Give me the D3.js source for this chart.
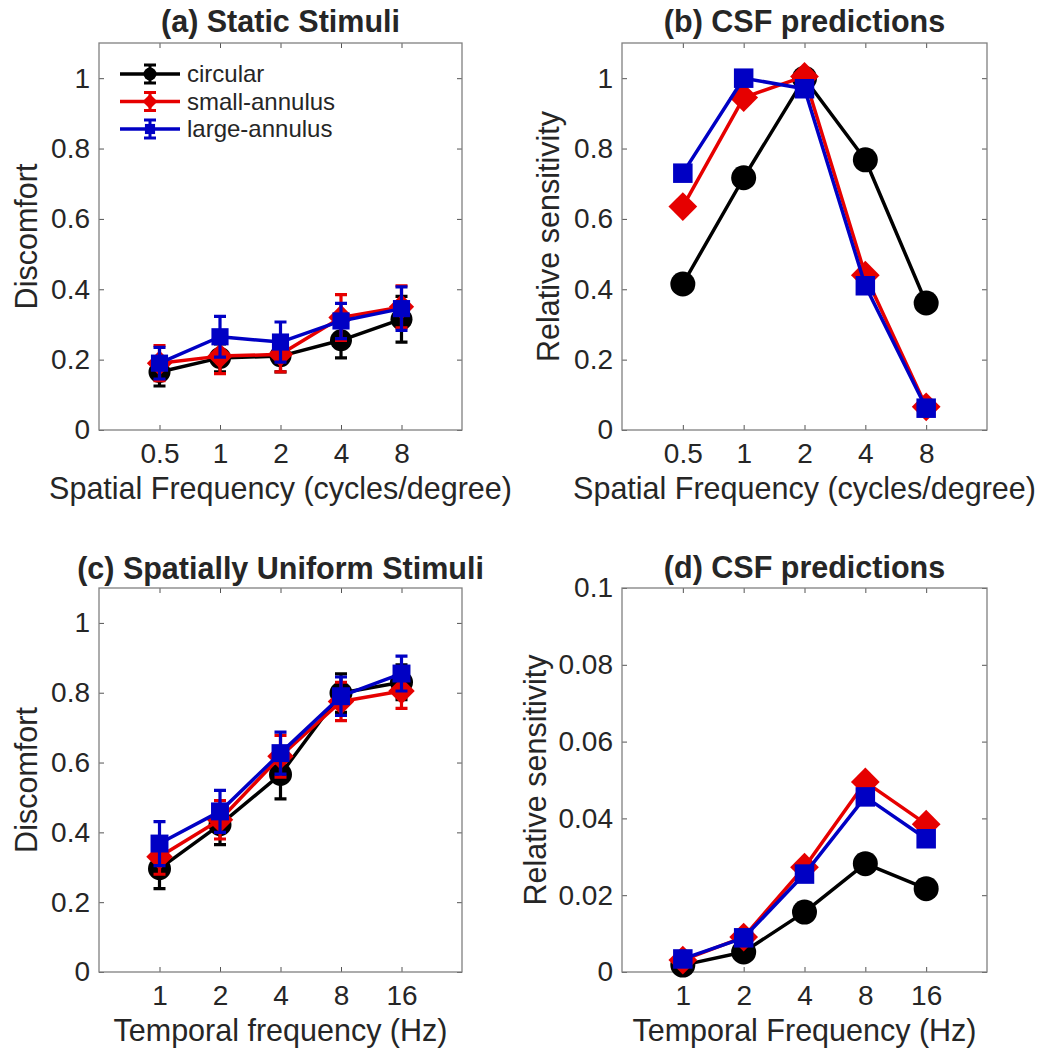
<!DOCTYPE html>
<html>
<head>
<meta charset="utf-8">
<script src="https://cdn.jsdelivr.net/npm/d3@7"></script>
<style>
  body { margin: 0; background: #fff; }
  svg { display: block; }
  text { font-family: "Liberation Sans", Arial, Helvetica, sans-serif; fill: #262626; }
</style>
</head>
<body>
<div id="chart"></div>
<script>
// category labels
var sfTicks = ["0.5", "1", "2", "4", "8"];
var tfTicks = ["1", "2", "4", "8", "16"];
var seriesNames = ["circular", "small-annulus", "large-annulus"];
var discomfortTicks = [0, 0.2, 0.4, 0.6, 0.8, 1];
var temporalCsfTicks = [0, 0.02, 0.04, 0.06, 0.08, 0.1];

// (a) static stimuli, mean discomfort and error
var staticCircular = [0.165, 0.205, 0.21, 0.255, 0.315];
var staticCircularErr = [0.04, 0.04, 0.045, 0.05, 0.065];
var staticSmall = [0.19, 0.21, 0.215, 0.32, 0.35];
var staticSmallErr = [0.05, 0.05, 0.05, 0.065, 0.06];
var staticLarge = [0.19, 0.265, 0.25, 0.31, 0.345];
var staticLargeErr = [0.045, 0.058, 0.057, 0.05, 0.062];

// (b) CSF predictions, spatial
var csfSpatialCircular = [0.415, 0.717, 1.0, 0.768, 0.361];
var csfSpatialSmall = [0.635, 0.945, 1.005, 0.44, 0.066];
var csfSpatialLarge = [0.73, 1.0, 0.97, 0.41, 0.062];

// (c) spatially uniform stimuli
var uniformCircular = [0.296, 0.422, 0.566, 0.799, 0.83];
var uniformCircularErr = [0.057, 0.057, 0.07, 0.055, 0.05];
var uniformSmall = [0.33, 0.436, 0.618, 0.775, 0.805];
var uniformSmallErr = [0.05, 0.055, 0.06, 0.055, 0.05];
var uniformLarge = [0.368, 0.46, 0.627, 0.79, 0.855];
var uniformLargeErr = [0.063, 0.06, 0.06, 0.055, 0.05];

// (d) CSF predictions, temporal
var csfTemporalCircular = [0.0018, 0.0052, 0.0156, 0.0282, 0.0217];
var csfTemporalSmall = [0.0031, 0.0091, 0.0273, 0.0495, 0.0385];
var csfTemporalLarge = [0.0034, 0.0089, 0.0255, 0.0456, 0.0347];

var colors = ["#000000", "#e60000", "#0000c4"];
var shapes = ["circle", "diamond", "square"];

var width = 1043, height = 1054;
var svg = d3.select("#chart").append("svg")
    .attr("width", width)
    .attr("height", height);

function marker(g, shape, x, y, s, color) {
  if (shape == "circle") {
    g.append("circle").attr("cx", x).attr("cy", y).attr("r", s).attr("fill", color);
  } else if (shape == "square") {
    var h = s * 0.78;
    g.append("rect").attr("x", x - h).attr("y", y - h)
      .attr("width", 2 * h).attr("height", 2 * h).attr("fill", color);
  } else {
    var d = s * 1.15;
    g.append("path")
      .attr("d", "M" + x + "," + (y - d) + "L" + (x + d) + "," + y + "L" + x + "," + (y + d) + "L" + (x - d) + "," + y + "Z")
      .attr("fill", color);
  }
}

function drawPanel(p) {
  var x = d3.scaleLinear().domain([0, 6]).range([p.left, p.right]);
  var y = d3.scaleLinear().domain(p.yDomain).range([p.bottom, p.top]);
  var g = svg.append("g");

  var fmt = function(i) { return p.xLabels[i - 1]; };
  var bottomAxis = d3.axisBottom(x).tickValues([1, 2, 3, 4, 5]).tickFormat(fmt)
      .tickSize(-5).tickPadding(13);
  var leftAxis = d3.axisLeft(y).tickValues(p.yTicks).tickFormat(p.yFormat)
      .tickSize(-5).tickPadding(9);

  g.append("g").attr("transform", "translate(0," + p.bottom + ")").call(bottomAxis);
  g.append("g").attr("transform", "translate(" + p.left + ",0)").call(leftAxis);
  g.append("g").attr("transform", "translate(0," + p.top + ")")
    .call(d3.axisTop(x).tickValues([1, 2, 3, 4, 5]).tickSize(-5).tickFormat(""));
  g.append("g").attr("transform", "translate(" + p.right + ",0)")
    .call(d3.axisRight(y).tickValues(p.yTicks).tickSize(-5).tickFormat(""));

  g.selectAll(".domain").remove();
  g.selectAll(".tick line").attr("stroke", "#555").attr("stroke-width", 1);
  g.selectAll(".tick text").attr("font-size", 28).attr("font-family", null).attr("fill", "#262626");

  g.append("rect")
    .attr("x", p.left).attr("y", p.top)
    .attr("width", p.right - p.left).attr("height", p.bottom - p.top)
    .attr("fill", "none").attr("stroke", "#808080").attr("stroke-width", 1.3);

  g.append("text")
    .attr("x", (p.left + p.right) / 2).attr("y", p.top - p.titleGap)
    .attr("text-anchor", "middle").attr("font-size", 30.5).attr("font-weight", "bold")
    .text(p.title);
  g.append("text")
    .attr("x", (p.left + p.right) / 2).attr("y", p.bottom + 69)
    .attr("text-anchor", "middle").attr("font-size", 30.5)
    .text(p.xTitle);
  g.append("text")
    .attr("transform", "translate(" + (p.left - p.yTitleGap) + "," + ((p.top + p.bottom) / 2) + ") rotate(-90)")
    .attr("text-anchor", "middle").attr("font-size", 30.5)
    .text(p.yTitle);

  var line = d3.line().x(function(d, i) { return x(i + 1); }).y(function(d) { return y(d); });

  p.series.forEach(function(vals, k) {
    var sg = g.append("g");
    sg.append("path").datum(vals)
      .attr("d", line).attr("fill", "none")
      .attr("stroke", colors[k]).attr("stroke-width", 3.5).attr("stroke-linejoin", "round");
    if (p.errors) {
      var errs = p.errors[k];
      vals.forEach(function(v, i) {
        var cx = x(i + 1), hi = y(v + errs[i]), lo = y(v - errs[i]);
        sg.append("path")
          .attr("d", "M" + cx + "," + hi + "V" + lo +
                     "M" + (cx - 6) + "," + hi + "H" + (cx + 6) +
                     "M" + (cx - 6) + "," + lo + "H" + (cx + 6))
          .attr("stroke", colors[k]).attr("stroke-width", 3.2).attr("fill", "none");
      });
    }
    vals.forEach(function(v, i) {
      marker(sg, shapes[k], x(i + 1), y(v), p.markerSize, colors[k]);
    });
  });

  if (p.legend) {
    var lg = g.append("g");
    seriesNames.forEach(function(name, k) {
      var ly = p.top + 31 + k * 27.5;
      lg.append("line").attr("x1", p.left + 21).attr("x2", p.left + 81)
        .attr("y1", ly).attr("y2", ly)
        .attr("stroke", colors[k]).attr("stroke-width", 3.5);
      lg.append("path")
        .attr("d", "M" + (p.left + 51) + "," + (ly - 9) + "V" + (ly + 9) +
                   "M" + (p.left + 45) + "," + (ly - 9) + "H" + (p.left + 57) +
                   "M" + (p.left + 45) + "," + (ly + 9) + "H" + (p.left + 57))
        .attr("stroke", colors[k]).attr("stroke-width", 3).attr("fill", "none");
      marker(lg, shapes[k], p.left + 51, ly, 6.5, colors[k]);
      lg.append("text").attr("x", p.left + 88).attr("y", ly).attr("dy", "0.35em")
        .attr("font-size", 24).text(name);
    });
  }
}

var fmtOne = function(d) { return d3.format("~g")(d); };

drawPanel({
  left: 99, right: 462, top: 43, bottom: 430, yDomain: [0, 1.1],
  yTicks: discomfortTicks, yFormat: fmtOne, xLabels: sfTicks,
  title: "(a) Static Stimuli", titleGap: 11,
  xTitle: "Spatial Frequency (cycles/degree)", yTitle: "Discomfort", yTitleGap: 62,
  series: [staticCircular, staticSmall, staticLarge],
  errors: [staticCircularErr, staticSmallErr, staticLargeErr],
  markerSize: 11, legend: true
});

drawPanel({
  left: 622, right: 987, top: 43, bottom: 430, yDomain: [0, 1.1],
  yTicks: discomfortTicks, yFormat: fmtOne, xLabels: sfTicks,
  title: "(b) CSF predictions", titleGap: 11,
  xTitle: "Spatial Frequency (cycles/degree)", yTitle: "Relative sensitivity", yTitleGap: 63,
  series: [csfSpatialCircular, csfSpatialSmall, csfSpatialLarge],
  markerSize: 12.5
});

drawPanel({
  left: 99, right: 462, top: 588, bottom: 972, yDomain: [0, 1.1],
  yTicks: discomfortTicks, yFormat: fmtOne, xLabels: tfTicks,
  title: "(c) Spatially Uniform Stimuli", titleGap: 9,
  xTitle: "Temporal frequency (Hz)", yTitle: "Discomfort", yTitleGap: 62,
  series: [uniformCircular, uniformSmall, uniformLarge],
  errors: [uniformCircularErr, uniformSmallErr, uniformLargeErr],
  markerSize: 11.5
});

drawPanel({
  left: 622, right: 987, top: 588, bottom: 972, yDomain: [0, 0.1],
  yTicks: temporalCsfTicks, yFormat: fmtOne, xLabels: tfTicks,
  title: "(d) CSF predictions", titleGap: 10,
  xTitle: "Temporal Frequency (Hz)", yTitle: "Relative sensitivity", yTitleGap: 76,
  series: [csfTemporalCircular, csfTemporalSmall, csfTemporalLarge],
  markerSize: 12.5
});
</script>
</body>
</html>
